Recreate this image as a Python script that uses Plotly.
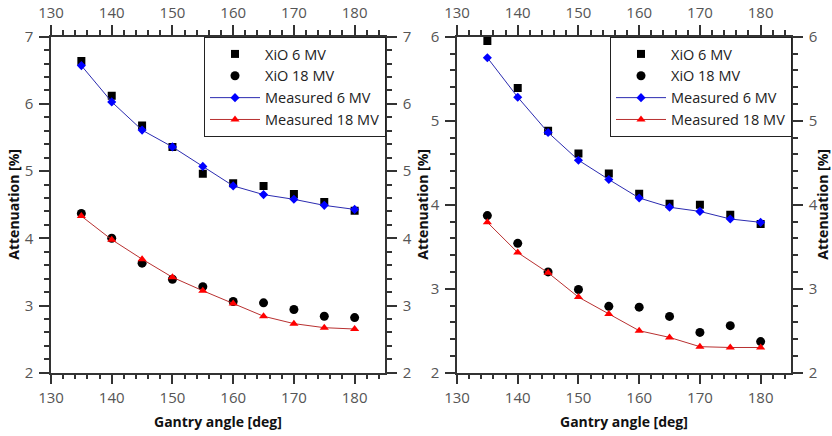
import plotly.graph_objects as go

# ---------------- data ----------------
angles = [135, 140, 145, 150, 155, 160, 165, 170, 175, 180]

# Left panel
left_xio_6 = [6.64, 6.12, 5.68, 5.36, 4.96, 4.82, 4.78, 4.66, 4.54, 4.41]
left_meas_6 = [6.57, 6.03, 5.61, 5.36, 5.07, 4.78, 4.65, 4.58, 4.49, 4.43]
left_xio_18 = [4.37, 4.00, 3.63, 3.39, 3.28, 3.06, 3.04, 2.94, 2.84, 2.82]
left_meas_18 = [4.33, 3.98, 3.69, 3.42, 3.22, 3.03, 2.84, 2.73, 2.67, 2.65]

# Right panel
right_xio_6 = [5.95, 5.39, 4.88, 4.61, 4.37, 4.13, 4.01, 4.00, 3.88, 3.77]
right_meas_6 = [5.75, 5.28, 4.86, 4.53, 4.30, 4.08, 3.97, 3.92, 3.83, 3.79]
right_xio_18 = [3.87, 3.54, 3.20, 2.99, 2.79, 2.78, 2.67, 2.48, 2.56, 2.37]
right_meas_18 = [3.79, 3.43, 3.19, 2.90, 2.70, 2.50, 2.42, 2.31, 2.30, 2.30]

series_names = ["XiO 6 MV", "XiO 18 MV", "Measured 6 MV", "Measured 18 MV"]
x_title = "Gantry angle [deg]"
y_title = "Attenuation [%]"

x_range = [130, 185]
left_y_range = [2, 7]
right_y_range = [2, 6]

# ---------------- layout geometry ----------------
W, H = 832, 436
FONT = "Open Sans"
TICKCOL = "#555555"
AXCOL = "#333333"

left_dom = [51 / W, 385 / W]
right_dom = [457 / W, 791 / W]
y_dom = [(H - 372.7) / H, (H - 36.7) / H]

fig = go.Figure()


def add_panel(xa, ya, legend, xio6, meas6, xio18, meas18):
    fig.add_trace(go.Scatter(x=angles, y=xio6, mode="markers", name=series_names[0],
                             marker=dict(symbol="square", size=8, color="black"),
                             xaxis=xa, yaxis=ya, legend=legend))
    fig.add_trace(go.Scatter(x=angles, y=xio18, mode="markers", name=series_names[1],
                             marker=dict(symbol="circle", size=9, color="black"),
                             xaxis=xa, yaxis=ya, legend=legend))
    fig.add_trace(go.Scatter(x=angles, y=meas6, mode="lines+markers", name=series_names[2],
                             line=dict(color="#2b2bb0", width=1),
                             marker=dict(symbol="diamond", size=7, color="#0000ff"),
                             xaxis=xa, yaxis=ya, legend=legend))
    fig.add_trace(go.Scatter(x=angles, y=meas18, mode="lines+markers", name=series_names[3],
                             line=dict(color="#b83030", width=1),
                             marker=dict(symbol="triangle-up", size=8, color="#ff0000"),
                             xaxis=xa, yaxis=ya, legend=legend))


add_panel("x", "y", "legend", left_xio_6, left_meas_6, left_xio_18, left_meas_18)
add_panel("x2", "y2", "legend2", right_xio_6, right_meas_6, right_xio_18, right_meas_18)

# dummy traces for mirrored (top / right) axes
for xa, ya in [("x3", "y3"), ("x4", "y4")]:
    fig.add_trace(go.Scatter(x=[None], y=[None], xaxis=xa, yaxis=ya, showlegend=False,
                             hoverinfo="skip", mode="markers"))

tickfont = dict(family=FONT, size=15, color=TICKCOL)


def xaxis_cfg(domain, anchor, side, overlaying=None):
    d = dict(domain=domain, anchor=anchor, side=side, range=x_range, dtick=10, tick0=130,
             ticks="outside", ticklen=10, tickwidth=1.5, tickcolor=AXCOL,
             minor=dict(dtick=2, ticks="outside", ticklen=5, tickwidth=1.5, tickcolor=AXCOL),
             showline=True, linecolor=AXCOL, linewidth=1.5, showgrid=False, zeroline=False,
             tickfont=tickfont, ticklabelstandoff=1, fixedrange=True, automargin=False)
    if overlaying:
        d["overlaying"] = overlaying
    return d


def yaxis_cfg(domain, anchor, side, yr, overlaying=None):
    d = dict(domain=domain, anchor=anchor, side=side, range=yr, dtick=1, tick0=2,
             ticks="outside", ticklen=10, tickwidth=1.5, tickcolor=AXCOL,
             minor=dict(dtick=0.2, ticks="outside", ticklen=5, tickwidth=1.5, tickcolor=AXCOL),
             showline=True, linecolor=AXCOL, linewidth=1.5, showgrid=False, zeroline=False,
             tickfont=tickfont, ticklabelstandoff=3, fixedrange=True, automargin=False)
    if overlaying:
        d["overlaying"] = overlaying
    return d


legend_common = dict(xanchor="right", yanchor="top", bordercolor="#222222", borderwidth=1,
                     bgcolor="white", font=dict(family=FONT, size=14.5, color="#222222"),
                     itemwidth=50, tracegroupgap=0)

fig.update_layout(
    width=W, height=H,
    margin=dict(l=0, r=0, t=0, b=0, autoexpand=False),
    paper_bgcolor="white", plot_bgcolor="white",
    font=dict(family=FONT),
    xaxis=xaxis_cfg(left_dom, "y", "bottom"),
    yaxis=yaxis_cfg(y_dom, "x", "left", left_y_range),
    xaxis3=xaxis_cfg(left_dom, "y", "top", overlaying="x"),
    yaxis3=yaxis_cfg(y_dom, "x", "right", left_y_range, overlaying="y"),
    xaxis2=xaxis_cfg(right_dom, "y2", "bottom"),
    yaxis2=yaxis_cfg(y_dom, "x2", "left", right_y_range),
    xaxis4=xaxis_cfg(right_dom, "y2", "top", overlaying="x2"),
    yaxis4=yaxis_cfg(y_dom, "x2", "right", right_y_range, overlaying="y2"),
    legend=dict(x=386 / W, y=(H - 37) / H, **legend_common),
    legend2=dict(x=792 / W, y=(H - 37) / H, **legend_common),
    showlegend=True,
)

ann_font = dict(family=FONT, size=14, color="#111111", weight="bold")
annotations = [
    dict(text=x_title, x=(51 + 385) / 2 / W, y=(H - 421) / H),
    dict(text=x_title, x=(457 + 791) / 2 / W, y=(H - 421) / H),
]
for a in annotations:
    a.update(xref="paper", yref="paper", showarrow=False, font=ann_font,
             xanchor="center", yanchor="middle")
for xc in [14, 423, 823]:
    annotations.append(dict(text=y_title, x=xc / W, y=(H - 204.7) / H, xref="paper", yref="paper",
                            showarrow=False, textangle=-90, font=ann_font,
                            xanchor="center", yanchor="middle"))
fig.update_layout(annotations=annotations)

fig.write_html("out.html")
